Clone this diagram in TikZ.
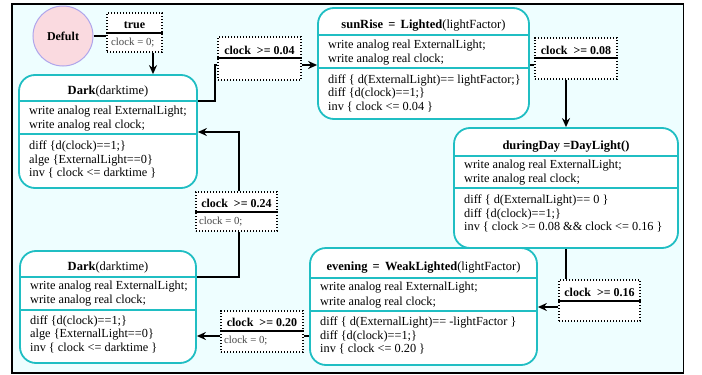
\documentclass[tikz,border=0pt]{standalone}
\usepackage{fontspec}
\setmainfont{Liberation Serif}
\usetikzlibrary{arrows.meta}
\definecolor{bgc}{RGB}{238,254,255}
\definecolor{tealb}{RGB}{32,190,195}
\definecolor{pinkf}{RGB}{250,218,224}
\definecolor{lilac}{RGB}{175,165,235}
\definecolor{subg}{RGB}{70,70,70}
\begin{document}
\begin{tikzpicture}[x=1pt,y=-1pt,
 statebox/.style={draw=tealb, line width=1.8pt, fill=white, rounded corners=16pt, inner sep=0pt},
 sepline/.style={draw=tealb, line width=1.4pt},
 guardbox/.style={draw=black, line width=1.4pt, dash pattern=on 1.4pt off 1.6pt, fill=white, inner sep=0pt},
 gsep/.style={draw=black, line width=1.4pt},
 titletext/.style={font=\fontsize{12.5}{14}\selectfont, inner sep=0pt},
 bodyA/.style={font=\fontsize{12.3}{14.5}\selectfont, align=left, anchor=west, inner sep=0pt},
 bodyB/.style={font=\fontsize{12.3}{13.5}\selectfont, align=left, anchor=west, inner sep=0pt},
 gtitle/.style={font=\bfseries\fontsize{12}{14}\selectfont, inner sep=0pt},
 gsub/.style={font=\fontsize{10.8}{12}\selectfont, text=subg, anchor=west, inner sep=0pt},
 conn/.style={draw=black, line width=1.5pt},
 arr/.style={-{Stealth[length=9pt,width=8pt,inset=3pt]}}
]
\useasboundingbox (0,0) rectangle (702,375);
\path[fill=bgc, draw=black, line width=1.2pt] (12,4) rectangle (683.5,373);

% Default
\node[circle, draw=lilac, fill=pinkf, line width=1pt, minimum size=60pt, inner sep=0pt,
      font=\bfseries\fontsize{12}{14}\selectfont] (default) at (63,36) {Defult};

% ---------- state boxes ----------
% Dark (top)
\node[statebox, minimum width=178pt, minimum height=113pt] (dark1) at (108,131.5) {};
\draw[sepline] (dark1.west |- 0,101) -- (dark1.east |- 0,101);
\draw[sepline] (dark1.west |- 0,134) -- (dark1.east |- 0,134);
\node[titletext] (dark1t) at (108,91.5) {\textbf{Dark}(darktime)};
\node[bodyA] (dark1a) at (29,118.5) {write analog real ExternalLight;\\write analog real clock;};
\node[bodyB] (dark1b) at (29,159.5) {diff \{d(clock)==1;\}\\alge \{ExternalLight==0\}\\inv \{ clock <= darktime \}};

% sunRise
\node[statebox, minimum width=211pt, minimum height=111pt] (sunrise) at (423.5,63.5) {};
\draw[sepline] (sunrise.west |- 0,35) -- (sunrise.east |- 0,35);
\draw[sepline] (sunrise.west |- 0,68) -- (sunrise.east |- 0,68);
\node[titletext] (sunriset) at (423.5,25.5) {\textbf{sunRise \,=\, Lighted}(lightFactor)};
\node[bodyA] (sunrisea) at (328,52.5) {write analog real ExternalLight;\\write analog real clock;};
\node[bodyB] (sunriseb) at (328,93) {diff \{ d(ExternalLight)== lightFactor;\}\\diff \{d(clock)==1;\}\\inv \{ clock <= 0.04 \}};

% duringDay
\node[statebox, minimum width=224pt, minimum height=120pt] (during) at (566,188) {};
\draw[sepline] (during.west |- 0,156) -- (during.east |- 0,156);
\draw[sepline] (during.west |- 0,188) -- (during.east |- 0,188);
\node[titletext] (duringt) at (566,146.5) {\textbf{duringDay =DayLight()}};
\node[bodyA] (duringa) at (464,172.5) {write analog real ExternalLight;\\write analog real clock;};
\node[bodyB] (duringb) at (464,213.5) {diff \{ d(ExternalLight)== 0 \}\\diff \{d(clock)==1;\}\\inv \{ clock >= 0.08 \&\& clock <= 0.16 \}};

% evening
\node[statebox, minimum width=227pt, minimum height=117pt] (evening) at (423.5,306.5) {};
\draw[sepline] (evening.west |- 0,278) -- (evening.east |- 0,278);
\draw[sepline] (evening.west |- 0,311) -- (evening.east |- 0,311);
\node[titletext] (eveningt) at (423.5,267.5) {\textbf{evening \,=\, WeakLighted}(lightFactor)};
\node[bodyA] (eveninga) at (320,295) {write analog real ExternalLight;\\write analog real clock;};
\node[bodyB] (eveningb) at (320,335.5) {diff \{ d(ExternalLight)== -lightFactor \}\\diff \{d(clock)==1;\}\\inv \{ clock <= 0.20 \}};

% Dark (bottom)
\node[statebox, minimum width=176pt, minimum height=112pt] (dark2) at (108,307) {};
\draw[sepline] (dark2.west |- 0,277) -- (dark2.east |- 0,277);
\draw[sepline] (dark2.west |- 0,310) -- (dark2.east |- 0,310);
\node[titletext] (dark2t) at (108,267.5) {\textbf{Dark}(darktime)};
\node[bodyA] (dark2a) at (30,293.5) {write analog real ExternalLight;\\write analog real clock;};
\node[bodyB] (dark2b) at (30,334) {diff \{d(clock)==1;\}\\alge \{ExternalLight==0\}\\inv \{ clock <= darktime \}};

% ---------- guard boxes ----------
\node[guardbox, minimum width=55pt, minimum height=39pt] (gtrue) at (134.5,32.5) {};
\draw[gsep] (gtrue.west |- 0,33) -- (gtrue.east |- 0,33);
\node[gtitle] (gtruet) at (134.5,25) {true};
\node[gsub] (gtrues) at (111,43) {clock = 0;};

\node[guardbox, minimum width=83pt, minimum height=43pt] (g004) at (259.5,58.5) {};
\draw[gsep] (g004.west |- 0,58) -- (g004.east |- 0,58);
\node[gtitle] (g004t) at (259.5,50.5) {clock~ >= 0.04};

\node[guardbox, minimum width=82pt, minimum height=41pt] (g008) at (576,58.5) {};
\draw[gsep] (g008.west |- 0,58) -- (g008.east |- 0,58);
\node[gtitle] (g008t) at (576,50.5) {clock~ >= 0.08};

\node[guardbox, minimum width=81pt, minimum height=41pt] (g016) at (599.5,300.5) {};
\draw[gsep] (g016.west |- 0,301) -- (g016.east |- 0,301);
\node[gtitle] (g016t) at (599.5,292.5) {clock~ >= 0.16};

\node[guardbox, minimum width=82pt, minimum height=41pt] (g020) at (262,331.5) {};
\draw[gsep] (g020.west |- 0,331) -- (g020.east |- 0,331);
\node[gtitle] (g020t) at (262,322.5) {clock~ >= 0.20};
\node[gsub] (g020s) at (224,340.5) {clock = 0;};

\node[guardbox, minimum width=81pt, minimum height=39pt] (g024) at (236.5,211.5) {};
\draw[gsep] (g024.west |- 0,212) -- (g024.east |- 0,212);
\node[gtitle] (g024t) at (236.5,203.5) {clock~ >= 0.24};
\node[gsub] (g024s) at (199,222) {clock = 0;};

% ---------- connectors ----------
\draw[conn] (default.east) -- (gtrue.west |- default.east);
\draw[conn,arr] (153,0 |- gtrue.south) -- (153,0 |- dark1.north);
\draw[conn] (dark1.east |- 0,101) -- ++(17,0) |- (g004.west |- 0,65);
\draw[conn,arr] (g004.east |- 0,65) -- (sunrise.west |- 0,65);
\draw[conn] (sunrise.east |- 0,65) -- (g008.west |- 0,65);
\draw[conn,arr] (566,0 |- g008.south) -- (566,0 |- during.north);
\draw[conn] (566,0 |- during.south) -- (566,0 |- g016.north);
\draw[conn,arr] (g016.west |- 0,307) -- (evening.east |- 0,307);
\draw[conn] (evening.west |- 0,336) -- (g020.east |- 0,336);
\draw[conn,arr] (g020.west |- 0,336) -- (dark2.east |- 0,336);
\draw[conn] (dark2.east |- 0,277) -| (239,0 |- g024.south);
\draw[conn,arr] (239,0 |- g024.north) |- (dark1.east |- 0,132);
\end{tikzpicture}
\end{document}
